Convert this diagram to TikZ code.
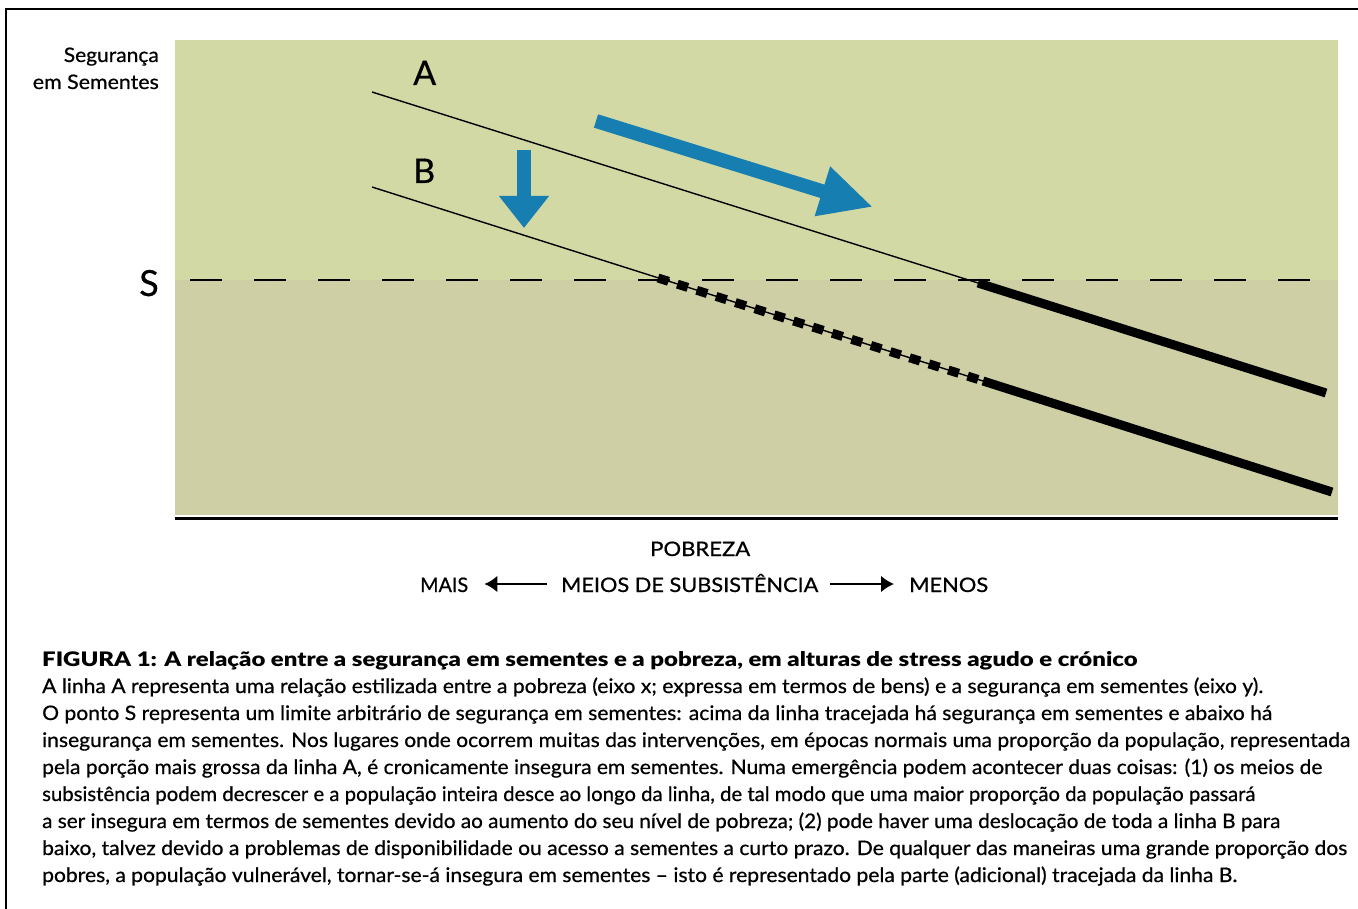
\documentclass[tikz,border=0pt]{standalone}
\usepackage{fontspec}
\setmainfont[FakeBold=0.6]{Lato}
\newfontfamily\blackfont{Lato Black}
\usetikzlibrary{arrows.meta}
\definecolor{upgreen}{RGB}{211,217,165}
\definecolor{lowgreen}{RGB}{207,207,166}
\definecolor{arrblue}{RGB}{22,126,176}
\newcommand{\fitw}[2]{\resizebox{#1pt}{\height}{#2}}
\tikzset{
  lbl/.style={inner sep=0pt, font=\fontsize{20}{24}\selectfont},
  captxt/.style={inner sep=0pt, anchor=base west, font=\fontsize{20}{24}\selectfont},
  letter/.style={inner sep=0pt, anchor=base west, font=\fontsize{34}{40}\selectfont},
  thinln/.style={line width=1.4pt, black},
  thickln/.style={line width=9pt, black},
  dotln/.style={line width=9pt, black, dash pattern=on 11pt off 9.3pt},
  bigarrow/.style={arrblue, line width=14pt},
  axarrow/.style={line width=2.6pt, -{Latex[length=13pt,width=17pt]}},
}
\begin{document}
\begin{tikzpicture}[x=1pt,y=-1pt]
\useasboundingbox (0,0) rectangle (1358,909);
\fill[white] (0,0) rectangle (1358,909);
% frame
\draw[line width=2pt] (6,909) -- (6,9) -- (1358,9);
% plot area
\fill[upgreen] (175,40) rectangle (1338,280);
\fill[lowgreen] (175,280) rectangle (1338,515);
\draw[line width=3pt] (175,518.5) -- (1338,518.5);
% threshold
\coordinate (S0) at (190,280);
\coordinate (S1) at (1312,280);
\draw[line width=1.5pt, dash pattern=on 32pt off 32pt] (S0) -- (S1);
% line A
\coordinate (A0) at (372,92);
\coordinate (A1) at (978,283);
\coordinate (A2) at (1326,393);
\draw[thinln] (A0) -- (A1);
\draw[thickln] (A1) -- (A2);
% line B
\coordinate (B0) at (372,187);
\coordinate (B1) at (658,278);
\coordinate (B2) at (983,381);
\coordinate (B3) at (1332,492);
\draw[thinln] (B0) -- (B2);
\draw[dotln] (B1) -- (B2);
\draw[thickln] (B2) -- (B3);
% blue arrows
\coordinate (V0) at (524,150);
\coordinate (V1) at (524,228);
\draw[bigarrow, -{Triangle[length=32pt,width=48pt]}] (V0) -- (V1);
\coordinate (D0) at (596,121);
\coordinate (D1) at (873,207);
\draw[bigarrow, -{Triangle[length=53pt,width=48pt]}] (D0) -- (D1);
% labels
\node[lbl, anchor=base east] (ylab1) at (159,62) {\fitw{95}{Segurança}};
\node[lbl, anchor=base east] (ylab2) at (159,89) {\fitw{126}{em Sementes}};
\node[inner sep=0pt, anchor=base east, font=\fontsize{36}{40}\selectfont] (S) at (159,296) {S};
\node[letter] (A) at (413,85) {A};
\node[letter] (B) at (413,183) {B};
% axis labels
\node[lbl, anchor=base west] (pob) at (650,556) {\fitw{100}{POBREZA}};
\node[lbl, anchor=base west] (mais) at (420,592) {\fitw{48}{MAIS}};
\node[lbl, anchor=base west] (meios) at (561,592) {\fitw{257}{MEIOS DE SUBSISTÊNCIA}};
\node[lbl, anchor=base west] (menos) at (909,592) {\fitw{79}{MENOS}};
\draw[axarrow] ([xshift=-14pt,yshift=8pt]meios.base west) -- ([xshift=16pt,yshift=8pt]mais.base east);
\draw[axarrow] ([xshift=12pt,yshift=8pt]meios.base east) -- ([xshift=-15pt,yshift=8pt]menos.base west);
% caption
\node[captxt] (t0) at (42,666) {\fitw{1095}{\blackfont FIGURA 1: A relação entre a segurança em sementes e a pobreza, em alturas de stress agudo e crónico}};
\node[captxt] (t1) at (42,693) {\fitw{1221}{A linha A representa uma relação estilizada entre a pobreza (eixo x; expressa em termos de bens) e a segurança em sementes (eixo y).}};
\node[captxt] (t2) at (42,720) {\fitw{1230}{O ponto S representa um limite arbitrário de segurança em sementes: acima da linha tracejada há segurança em sementes e abaixo há}};
\node[captxt] (t3) at (42,747) {\fitw{1308}{insegurança em sementes. Nos lugares onde ocorrem muitas das intervenções, em épocas normais uma proporção da população, representada}};
\node[captxt] (t4) at (42,774) {\fitw{1280}{pela porção mais grossa da linha A, é cronicamente insegura em sementes. Numa emergência podem acontecer duas coisas: (1) os meios de}};
\node[captxt] (t5) at (42,801) {\fitw{1213}{subsistência podem decrescer e a população inteira desce ao longo da linha, de tal modo que uma maior proporção da população passará}};
\node[captxt] (t6) at (42,828) {\fitw{1238}{a ser insegura em termos de sementes devido ao aumento do seu nível de pobreza; (2) pode haver uma deslocação de toda a linha B para}};
\node[captxt] (t7) at (42,855) {\fitw{1305}{baixo, talvez devido a problemas de disponibilidade ou acesso a sementes a curto prazo. De qualquer das maneiras uma grande proporção dos}};
\node[captxt] (t8) at (42,882) {\fitw{1195}{pobres, a população vulnerável, tornar-se-á insegura em sementes – isto é representado pela parte (adicional) tracejada da linha B.}};
\end{tikzpicture}
\end{document}
